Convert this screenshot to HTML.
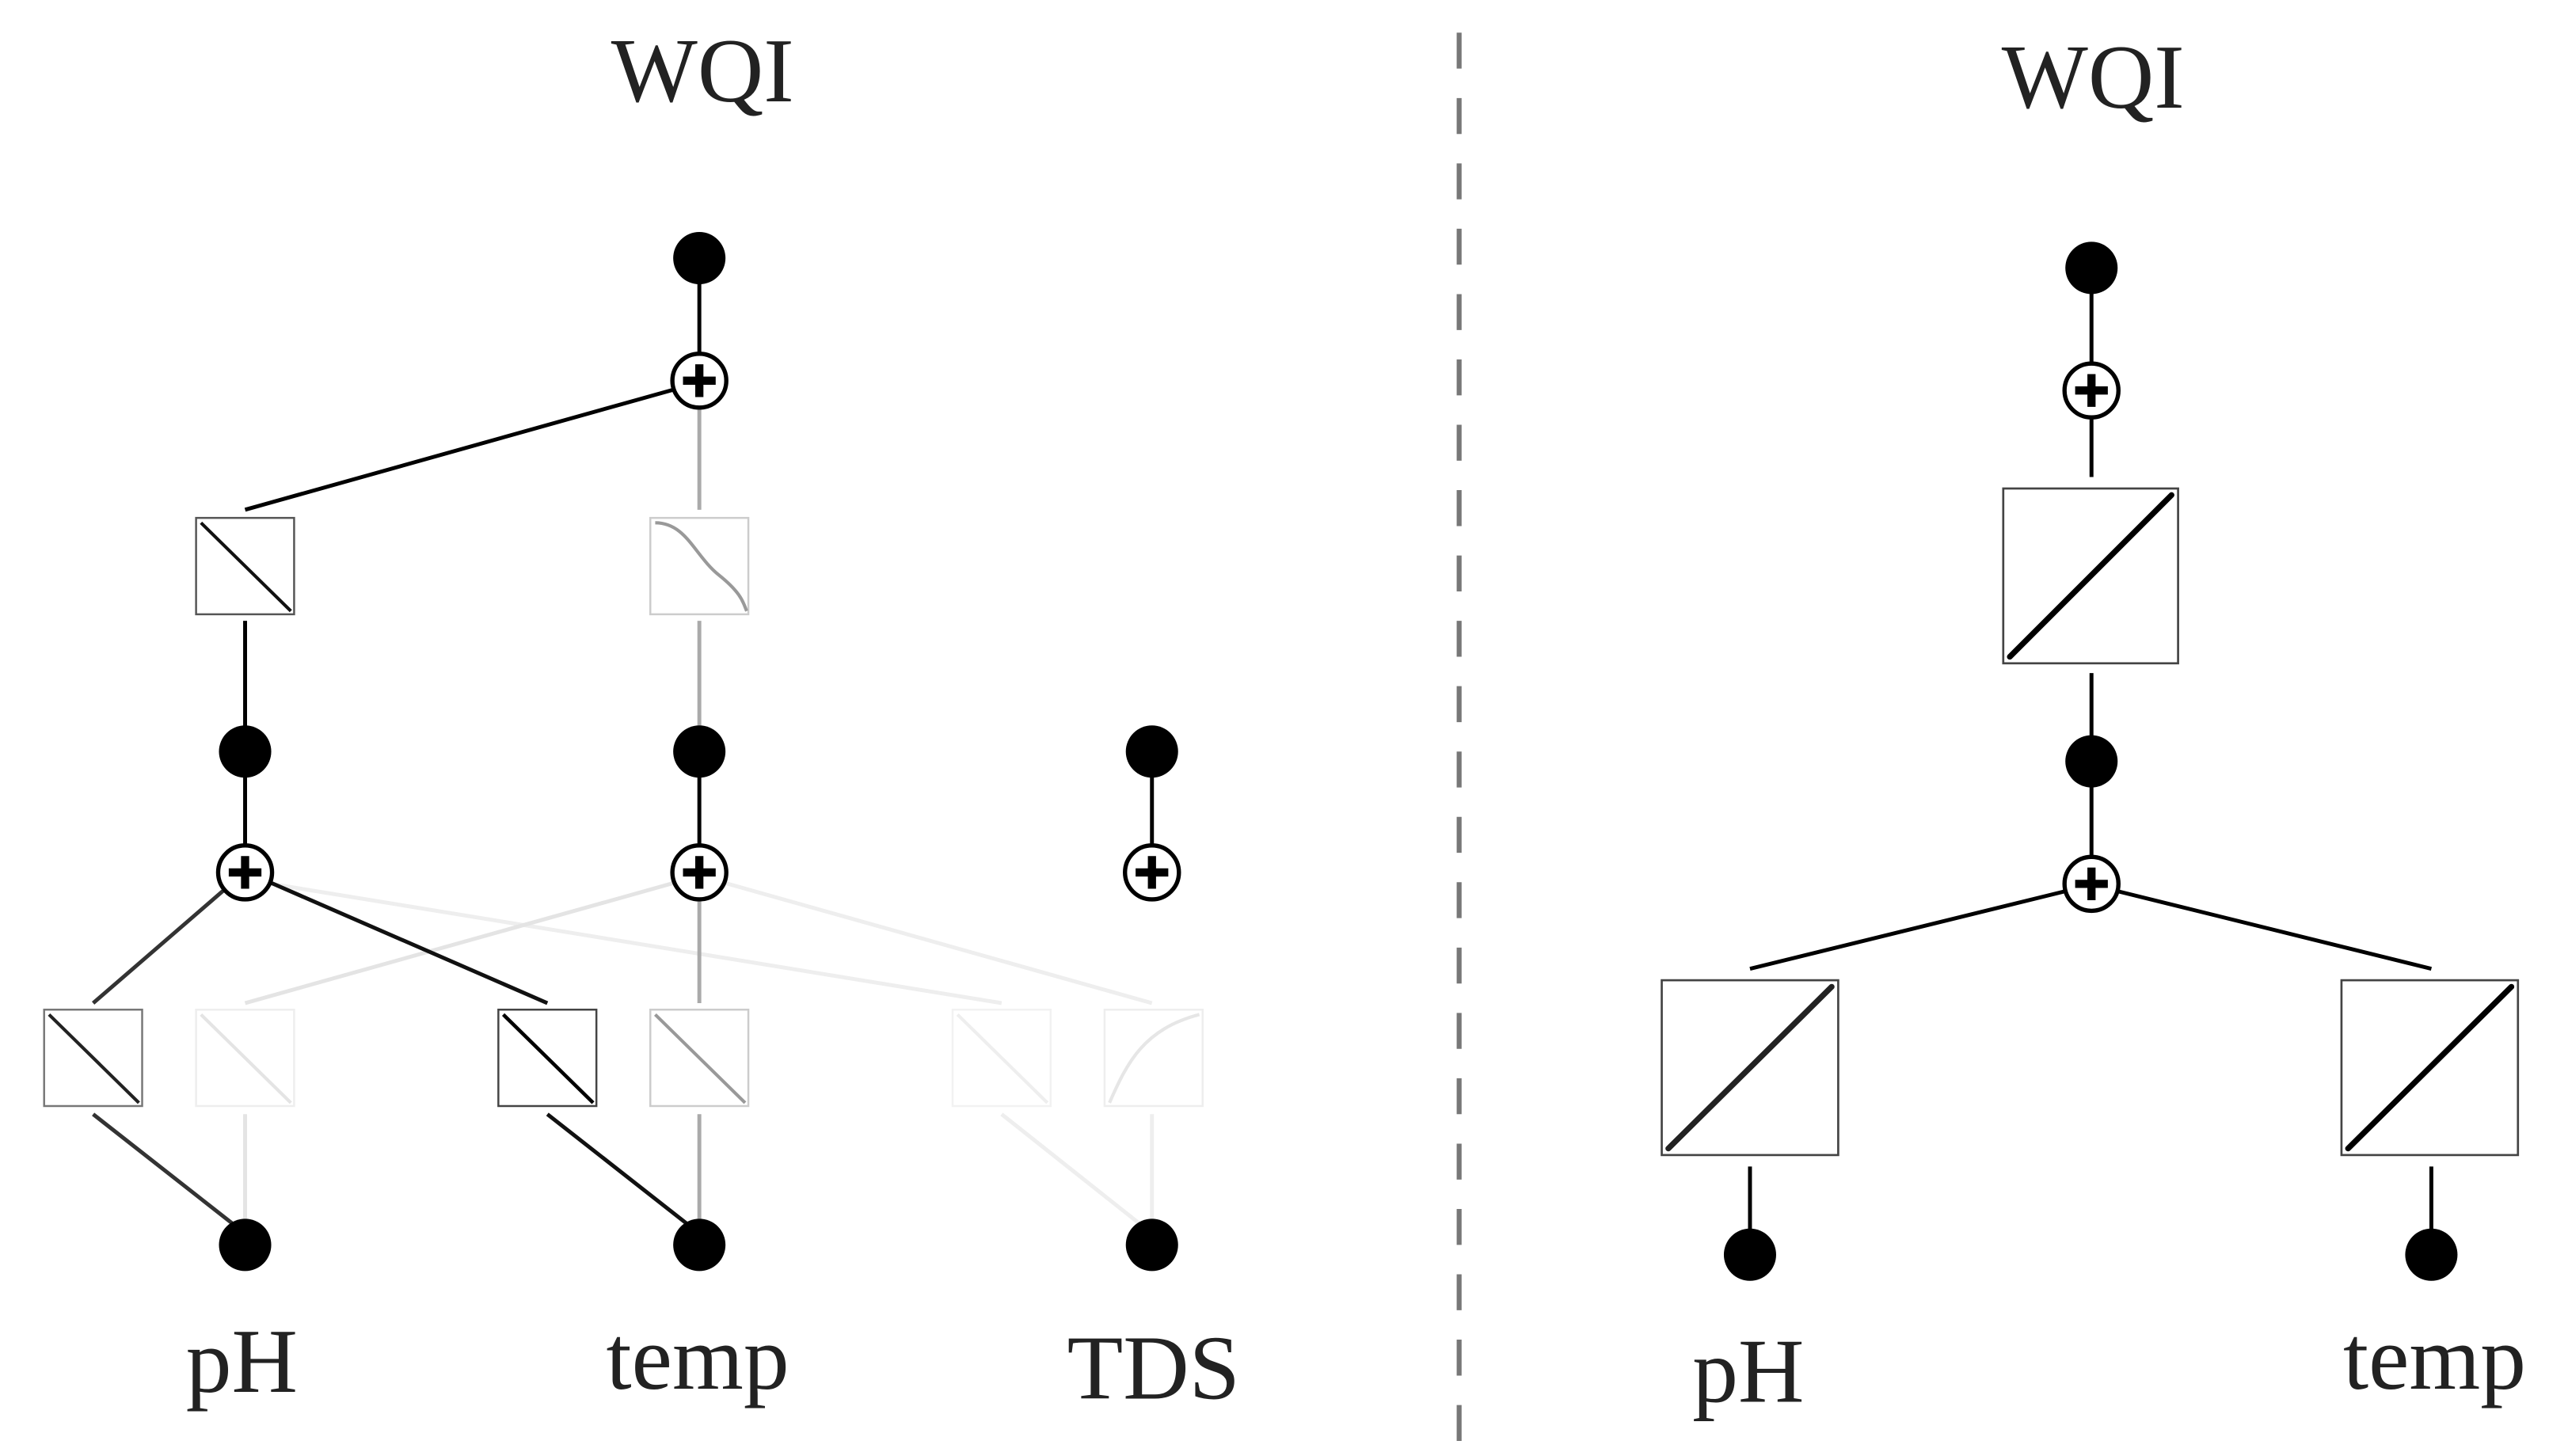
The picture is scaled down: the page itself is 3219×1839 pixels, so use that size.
<!DOCTYPE html>
<html><head><meta charset="utf-8"><style>html,body{margin:0;padding:0;background:#fff}svg{display:block}</style></head>
<body>
<svg width="3219" height="1839" viewBox="0 0 1560 891.2" xmlns="http://www.w3.org/2000/svg">
<defs>
<g id="plus"><circle r="16.5" fill="#fff" stroke="#000" stroke-width="2.6"/><path d="M-10 0H10M0 -10V10" stroke="#000" stroke-width="5"/></g>
</defs>
<g font-family="Liberation Serif, serif" fill="#222" font-size="56" text-anchor="middle">
<text x="430" y="62">WQI</text>
<text x="1281" y="66">WQI</text>
<text x="148" y="852">pH</text>
<text x="427" y="850">temp</text>
<text x="706" y="856">TDS</text>
<text x="1070" y="858">pH</text>
<text x="1490" y="850">temp</text>
</g>
<line x1="893" y1="20" x2="893" y2="885" stroke="#777" stroke-width="3" stroke-dasharray="22,18"/>
<!-- left edges -->
<g fill="none" stroke-width="2.4">
<line x1="428" y1="158" x2="428" y2="233" stroke="#000"/>
<line x1="428" y1="250" x2="428" y2="312" stroke="#aaa"/>
<line x1="414" y1="238" x2="150" y2="312" stroke="#000"/>
<line x1="150" y1="380" x2="150" y2="460" stroke="#000"/>
<line x1="428" y1="380" x2="428" y2="460" stroke="#aaa"/>
<line x1="150" y1="460" x2="150" y2="534" stroke="#000"/>
<line x1="428" y1="460" x2="428" y2="534" stroke="#000"/>
<line x1="705" y1="460" x2="705" y2="534" stroke="#000"/>
<line x1="160" y1="540" x2="613" y2="614" stroke="#eee"/>
<line x1="414" y1="540" x2="150" y2="614" stroke="#e4e4e4"/>
<line x1="442" y1="540" x2="705" y2="614" stroke="#eee"/>
<line x1="428" y1="550" x2="428" y2="614" stroke="#aaa"/>
<line x1="138" y1="544" x2="57" y2="614" stroke="#333"/>
<line x1="165" y1="540" x2="335" y2="614" stroke="#111"/>
<line x1="57" y1="682" x2="150" y2="755" stroke="#333"/>
<line x1="150" y1="682" x2="150" y2="755" stroke="#e4e4e4"/>
<line x1="335" y1="682" x2="428" y2="755" stroke="#111"/>
<line x1="428" y1="682" x2="428" y2="755" stroke="#aaa"/>
<line x1="613" y1="682" x2="705" y2="755" stroke="#eee"/>
<line x1="705" y1="682" x2="705" y2="755" stroke="#eee"/>
</g>
<!-- left boxes -->
<g stroke-width="1.2" fill="#fff">
<rect x="120" y="317" width="60" height="59" stroke="#555"/>
<line x1="123" y1="320" x2="178" y2="374" stroke="#111" stroke-width="2"/>
<rect x="398" y="317" width="60" height="59" stroke="#ccc"/>
<path d="M401 320 C420 320 425 340 440 352 S455 370 457 374" stroke="#999" stroke-width="2" fill="none"/>
<rect x="27" y="618" width="60" height="59" stroke="#777"/>
<line x1="30" y1="621" x2="85" y2="675" stroke="#222" stroke-width="2"/>
<rect x="120" y="618" width="60" height="59" stroke="#eee"/>
<line x1="123" y1="621" x2="178" y2="675" stroke="#e4e4e4" stroke-width="2"/>
<rect x="305" y="618" width="60" height="59" stroke="#444"/>
<line x1="308" y1="621" x2="363" y2="675" stroke="#000" stroke-width="2.2"/>
<rect x="398" y="618" width="60" height="59" stroke="#ccc"/>
<line x1="401" y1="621" x2="456" y2="675" stroke="#999" stroke-width="2"/>
<rect x="583" y="618" width="60" height="59" stroke="#f2f2f2"/>
<line x1="586" y1="621" x2="641" y2="675" stroke="#eee" stroke-width="2"/>
<rect x="676" y="618" width="60" height="59" stroke="#eee"/>
<path d="M679 675 C690 650 700 630 734 621" stroke="#e6e6e6" stroke-width="2" fill="none"/>
</g>
<!-- left nodes -->
<g fill="#000">
<circle cx="428" cy="158" r="16"/>
<circle cx="150" cy="460" r="16"/><circle cx="428" cy="460" r="16"/><circle cx="705" cy="460" r="16"/>
<circle cx="150" cy="762" r="16"/><circle cx="428" cy="762" r="16"/><circle cx="705" cy="762" r="16"/>
</g>
<use href="#plus" x="428" y="233"/>
<use href="#plus" x="150" y="534"/><use href="#plus" x="428" y="534"/><use href="#plus" x="705" y="534"/>
<!-- right -->
<g stroke="#000" stroke-width="2.4" fill="none">
<line x1="1280" y1="164" x2="1280" y2="292"/>
<line x1="1280" y1="412" x2="1280" y2="541"/>
<line x1="1266" y1="545" x2="1071" y2="593"/>
<line x1="1294" y1="545" x2="1488" y2="593"/>
<line x1="1071" y1="714" x2="1071" y2="768"/>
<line x1="1488" y1="714" x2="1488" y2="768"/>
</g>
<g fill="#fff" stroke="#444" stroke-width="1.3">
<rect x="1226" y="299" width="107" height="107"/>
<rect x="1017" y="600" width="108" height="107"/>
<rect x="1433" y="600" width="108" height="107"/>
</g>
<g stroke="#000" stroke-width="3.5" stroke-linecap="round">
<line x1="1230" y1="402" x2="1329" y2="303"/>
<line x1="1021" y1="703" x2="1121" y2="604" stroke="#222"/>
<line x1="1437" y1="703" x2="1537" y2="604"/>
</g>
<g fill="#000">
<circle cx="1280" cy="164" r="16"/><circle cx="1280" cy="466" r="16"/>
<circle cx="1071" cy="768" r="16"/><circle cx="1488" cy="768" r="16"/>
</g>
<use href="#plus" x="1280" y="239"/><use href="#plus" x="1280" y="541"/>
</svg>
</body></html>
